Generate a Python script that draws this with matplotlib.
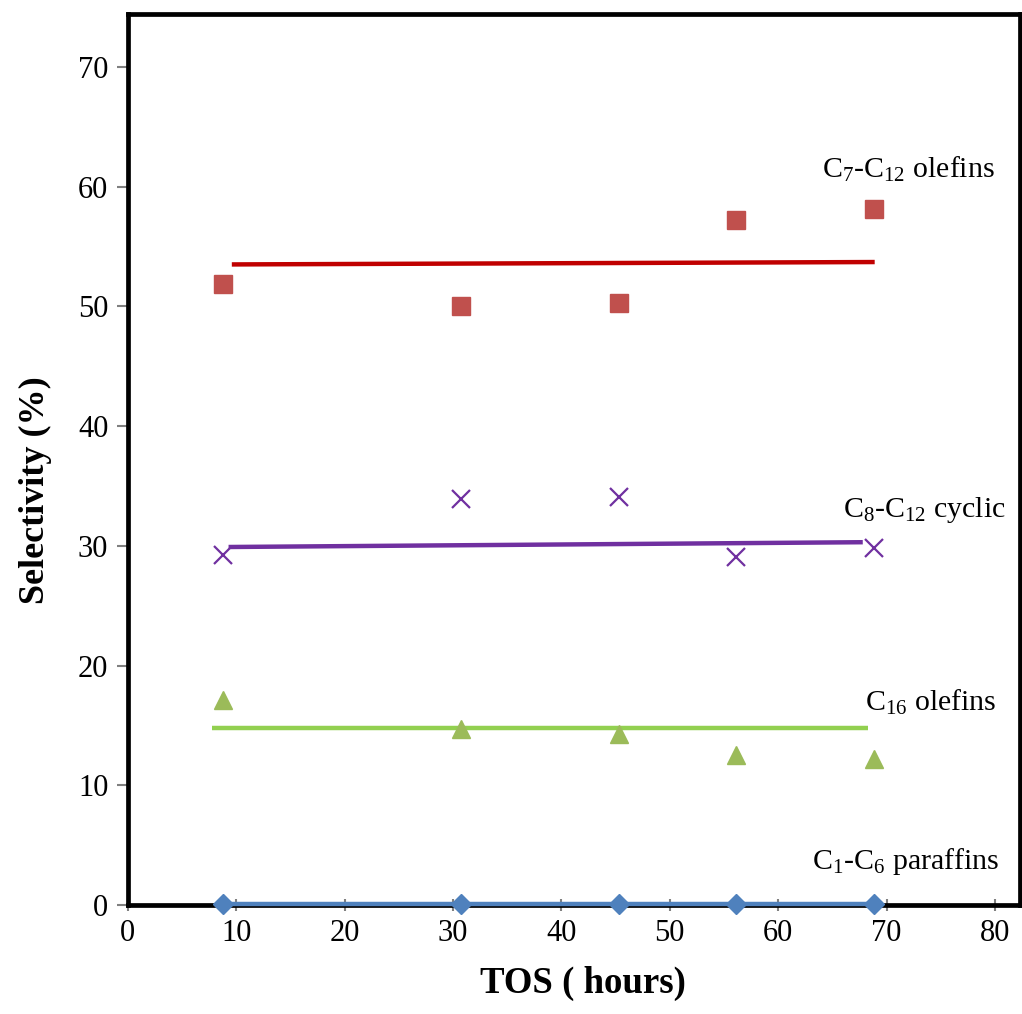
import numpy as np
import matplotlib
matplotlib.use('Agg')
import matplotlib.pyplot as plt

plt.rcParams['font.family'] = ['Liberation Serif', 'DejaVu Serif']
plt.rcParams['mathtext.fontset'] = 'custom'
plt.rcParams['mathtext.rm'] = 'Liberation Serif'
plt.rcParams['mathtext.it'] = 'Liberation Serif:italic'

# 反应时间 (h)
tos = [8.8, 30.7, 45.3, 56.1, 68.8]

# 各产物选择性 (%)
c7_c12_olefins = [51.9, 50.0, 50.3, 57.2, 58.1]
c8_c12_cyclic = [29.2, 33.9, 34.1, 29.1, 29.8]
c16_olefins = [17.1, 14.7, 14.3, 12.5, 12.2]
c1_c6_paraffins = [0.1, 0.1, 0.1, 0.1, 0.1]

# 趋势线端点 (x, y)
trend_olefins = ([9.6, 68.9], [53.5, 53.7])
trend_cyclic = ([9.3, 67.8], [29.9, 30.3])
trend_c16 = ([7.75, 68.3], [14.8, 14.8])

labels = [r'$\mathregular{C_7}$-$\mathregular{C_{12}}$ olefins',
          r'$\mathregular{C_8}$-$\mathregular{C_{12}}$ cyclic',
          r'$\mathregular{C_{16}}$ olefins',
          r'$\mathregular{C_1}$-$\mathregular{C_6}$ paraffins']
label_pos = [(64.0, 61.4), (66.0, 33.0), (68.0, 16.9), (63.1, 3.6)]

fig = plt.figure(figsize=(10.22, 10.14), dpi=100)
ax = fig.add_axes([0.125, 0.1075, 0.873, 0.8785])

# 趋势线
ax.plot(*trend_olefins, color='#C00000', lw=3.2, solid_capstyle='butt')
ax.plot(*trend_cyclic, color='#7030A0', lw=3.2, solid_capstyle='butt')
ax.plot(*trend_c16, color='#92D050', lw=3.2, solid_capstyle='butt')

# 数据点
ax.plot(tos, c7_c12_olefins, 's', color='#C0504D', ms=13, ls='none')
ax.plot(tos, c8_c12_cyclic, 'x', color='#7030A0', ms=13, mew=1.6, ls='none')
ax.plot(tos, c16_olefins, '^', color='#9BBB59', ms=13, ls='none')
ax.plot(tos, c1_c6_paraffins, 'D', color='#4F81BD', ms=10, lw=3.2,
        ls='-', clip_on=False, zorder=5)

for txt, (x, y) in zip(labels, label_pos):
    ax.text(x, y, txt, fontsize=21.5, va='center', ha='left')

ax.set_xlim(0, 82.3)
ax.set_ylim(0, 74.4)
ax.set_xticks(np.arange(0, 81, 10))
ax.set_yticks(np.arange(0, 71, 10))

for s in ax.spines.values():
    s.set_linewidth(3.4)
    s.set_color('black')

ax.tick_params(axis='x', direction='inout', length=8, width=1.5,
               color='#808080', labelsize=22, pad=6)
ax.tick_params(axis='y', direction='out', length=8, width=1.5,
               color='#808080', labelsize=22, pad=6)

ax.set_xlabel('TOS ( hours)', fontsize=26.5, fontweight='bold')
ax.set_ylabel('Selectivity (%)', fontsize=26, fontweight='bold')
ax.xaxis.set_label_coords(0.51, -0.068)
ax.yaxis.set_label_coords(-0.085, 0.466)

fig.savefig('out.png', dpi=100)
